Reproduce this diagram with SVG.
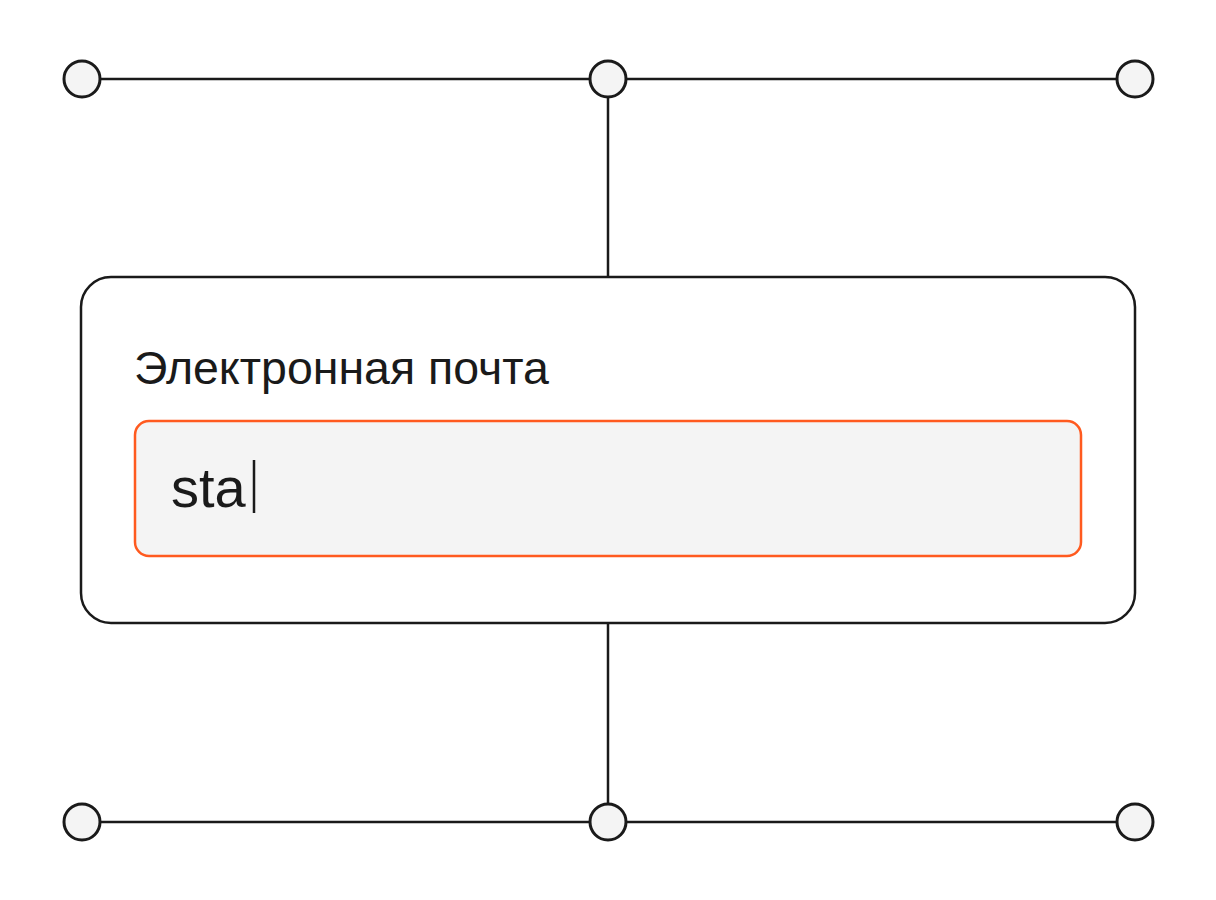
<svg xmlns="http://www.w3.org/2000/svg" width="1216" height="900" viewBox="0 0 1216 900">
<style>
.node{fill:#f4f4f4;stroke:#1a1a1a;stroke-width:3}
.edge{stroke:#1a1a1a;stroke-width:2.5;fill:none}
.lbl{font-family:"Liberation Sans",Arial,sans-serif;fill:#1a1a1a}
</style>
<rect width="1216" height="900" fill="#ffffff"/>
<g id="connectors">
<line class="edge" x1="100" y1="79" x2="590" y2="79"/>
<line class="edge" x1="626" y1="79" x2="1117" y2="79"/>
<line class="edge" x1="608" y1="97" x2="608" y2="277"/>
<line class="edge" x1="100" y1="822" x2="590" y2="822"/>
<line class="edge" x1="626" y1="822" x2="1117" y2="822"/>
<line class="edge" x1="608" y1="623" x2="608" y2="804"/>
</g>
<g id="n-top-left"><circle class="node" cx="82" cy="79" r="18"/></g>
<g id="n-top-mid"><circle class="node" cx="608" cy="79" r="18"/></g>
<g id="n-top-right"><circle class="node" cx="1135" cy="79" r="18"/></g>
<g id="n-bot-left"><circle class="node" cx="82" cy="822" r="18"/></g>
<g id="n-bot-mid"><circle class="node" cx="608" cy="822" r="18"/></g>
<g id="n-bot-right"><circle class="node" cx="1135" cy="822" r="18"/></g>
<g id="card">
<rect x="81" y="277" width="1054" height="346" rx="30" fill="#ffffff" stroke="#1a1a1a" stroke-width="2.5"/>
<text class="lbl" x="134" y="384" font-size="46.5">Электронная почта</text>
<g id="input">
<rect x="135" y="421" width="946" height="135" rx="14" fill="#f4f4f4" stroke="#ff5a1f" stroke-width="2.5"/>
<text class="lbl" x="171" y="507" font-size="56">sta</text>
<line x1="254" y1="460" x2="254" y2="513" stroke="#1a1a1a" stroke-width="2.5"/>
</g>
</g>
</svg>
